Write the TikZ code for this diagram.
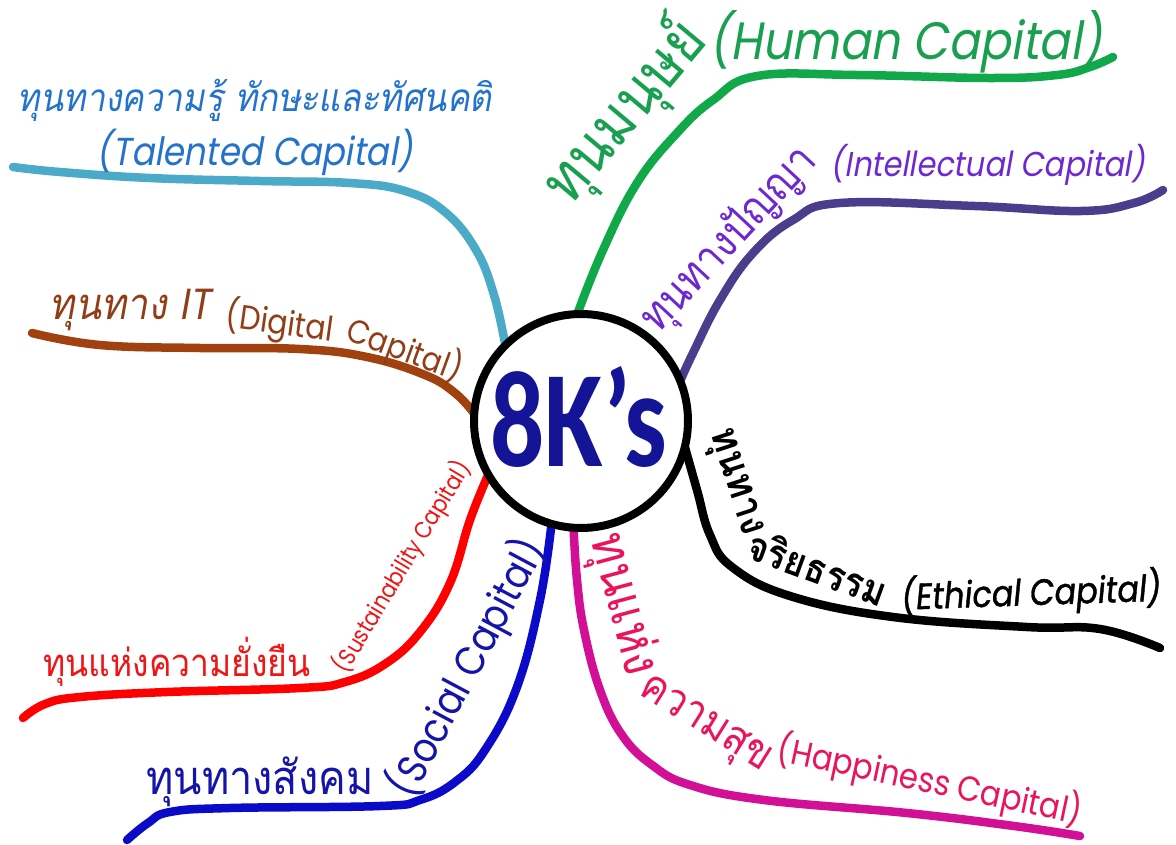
\documentclass[tikz,border=0pt]{standalone}
\usepackage{fontspec}
\usetikzlibrary{backgrounds}
\newfontfamily\thfont[Script=Thai]{Loma}
\newfontfamily\thit[Script=Thai,FakeSlant=0.2]{Loma}
\newfontfamily\latfont{Poppins}
\newfontfamily\latit[FakeSlant=0.2]{Poppins}
\newfontfamily\latitb[FakeSlant=0.15,FakeBold=1.2]{Poppins}
\newfontfamily\kfont{Carlito}
\definecolor{tline}{RGB}{75,170,200}
\definecolor{ttext}{RGB}{35,115,205}
\definecolor{dline}{RGB}{160,65,15}
\definecolor{dtext}{RGB}{145,62,22}
\definecolor{rline}{RGB}{255,0,0}
\definecolor{rtext}{RGB}{240,20,20}
\definecolor{sline}{RGB}{10,10,200}
\definecolor{stext}{RGB}{20,20,170}
\definecolor{mline}{RGB}{210,16,150}
\definecolor{mtext}{RGB}{235,20,90}
\definecolor{pline}{RGB}{75,60,140}
\definecolor{ptext}{RGB}{110,40,210}
\definecolor{gline}{RGB}{16,168,72}
\definecolor{gtext}{RGB}{24,160,80}
\definecolor{kblue}{RGB}{20,20,150}
\newcommand{\fitw}[2]{\resizebox{#1}{!}{\scalebox{0.88}[1]{#2}}}
\begin{document}
\begin{tikzpicture}[x=1pt,y=-1pt,
  curve/.style={line width=8.5pt, line cap=round, line join=round},
  lbl/.style={inner sep=0pt, outer sep=0pt}]
\useasboundingbox (0,0) rectangle (1176,844);
\node[circle, draw=black, line width=8pt, fill=white, minimum size=214pt, inner sep=0pt, outer sep=0pt] (c) at (581,421) {};
\node[lbl, text=kblue] (k) at (579,417) {\resizebox{177pt}{100pt}{\kfont\bfseries 8K’s}};
\begin{pgfonlayer}{background}
\fill[white] (0,0) rectangle (1176,844);
\draw[curve, tline] plot[smooth, tension=0.7] coordinates {(13,167) (60,172) (150,178) (260,181) (350,183) (405,191) (445,212) (476,250) (494,295) (c.135)};
\draw[curve, dline] plot[smooth, tension=0.7] coordinates {(32,333) (100,345) (200,348) (300,349) (367,357) (425,375) (455,393) (c.176)};
\draw[curve, rline] plot[smooth, tension=0.7] coordinates {(23,718) (45,704) (80,697) (167,692) (300,688) (345,682) (385,664) (420,632) (450,583) (470,520) (c.210)};
\draw[curve, sline] plot[smooth, tension=0.7] coordinates {(127,840) (148,823) (170,812) (230,808) (380,806) (420,800) (455,782) (485,750) (517,687) (540,600) (c.254)};
\draw[curve, mline] plot[smooth, tension=0.7] coordinates {(c.266) (577,580) (584,630) (600,690) (622,735) (652,765) (690,785) (764,800) (907,813) (1014,826) (1080,836)};
\draw[curve, black] plot[smooth, tension=0.7] coordinates {(c.346) (697,490) (710,535) (732,567) (790,596) (893,617) (1027,627) (1100,629) (1160,648)};
\draw[curve, pline] plot[smooth, tension=0.7] coordinates {(c.22) (693,353) (720,300) (753,253) (793,220) (840,203) (975,206) (1081,211) (1134,203) (1163,190)};
\draw[curve, gline] plot[smooth, tension=0.7] coordinates {(c.92) (603,250) (637,183) (677,133) (713,100) (757,76) (857,75) (990,78) (1057,75) (1090,67) (1113,57)};
\end{pgfonlayer}
% labels
\node[lbl, text=ttext] (t1) at (255,100) {\fitw{474pt}{\thit ทุนทางความรู้ ทักษะและทัศนคติ}};
\node[lbl, text=ttext] (t2) at (255,152) {\fitw{316pt}{\latit (Talented Capital)}};
\node[lbl, text=dtext] (d1) at (130,310) {\fitw{160pt}{\thit ทุนทาง \latit IT}};
\node[lbl, text=dtext, rotate=-8] (d2) at (280,323) {\fitw{108pt}{\latfont (Digital}};
\node[lbl, text=dtext, rotate=-20] (d3) at (405,350) {\fitw{120pt}{\latfont Capital)}};
\node[lbl, text=rtext] (r1) at (177,662) {\fitw{267pt}{\thfont ทุนแห่งความยั่งยืน}};
\node[lbl, text=rtext, rotate=59] (r2) at (402,567) {\fitw{241pt}{\latfont (Sustainability Capital)}};
\node[lbl, text=stext] (s1) at (260,782) {\fitw{227pt}{\thfont ทุนทางสังคม}};
\node[lbl, text=stext, rotate=62] (s2) at (467,668) {\fitw{285pt}{\latfont (Social Capital)}};
\node[lbl, text=mtext, rotate=-75] (m1) at (622,605) {\fitw{144pt}{\thfont ทุนแห่ง}};
\node[lbl, text=mtext, rotate=-32] (m2) at (704,726) {\fitw{148pt}{\thfont ความสุข}};
\node[lbl, text=mtext, rotate=-12] (m3) at (930,781) {\fitw{310pt}{\latfont (Happiness Capital)}};
\node[lbl, text=black, rotate=-72] (e1) at (733,483) {\fitw{110pt}{\thfont\bfseries ทุนทาง}};
\node[lbl, text=black, rotate=-20] (e2) at (818,567) {\fitw{145pt}{\thfont\bfseries จริยธรรม}};
\node[lbl, text=black, rotate=2] (e3) at (1030,593) {\fitw{260pt}{\latitb (Ethical Capital)}};
\node[lbl, text=ptext, rotate=47] (p1) at (730,240) {\fitw{235pt}{\thfont ทุนทางปัญญา}};
\node[lbl, text=ptext] (p2) at (988,165) {\fitw{314pt}{\latit (Intellectual Capital)}};
\node[lbl, text=gtext, rotate=50] (g1) at (625,112) {\fitw{216pt}{\thfont ทุนมนุษย์}};
\node[lbl, text=gtext] (g2) at (906,42) {\fitw{393pt}{\latit (Human Capital)}};
\end{tikzpicture}
\end{document}
